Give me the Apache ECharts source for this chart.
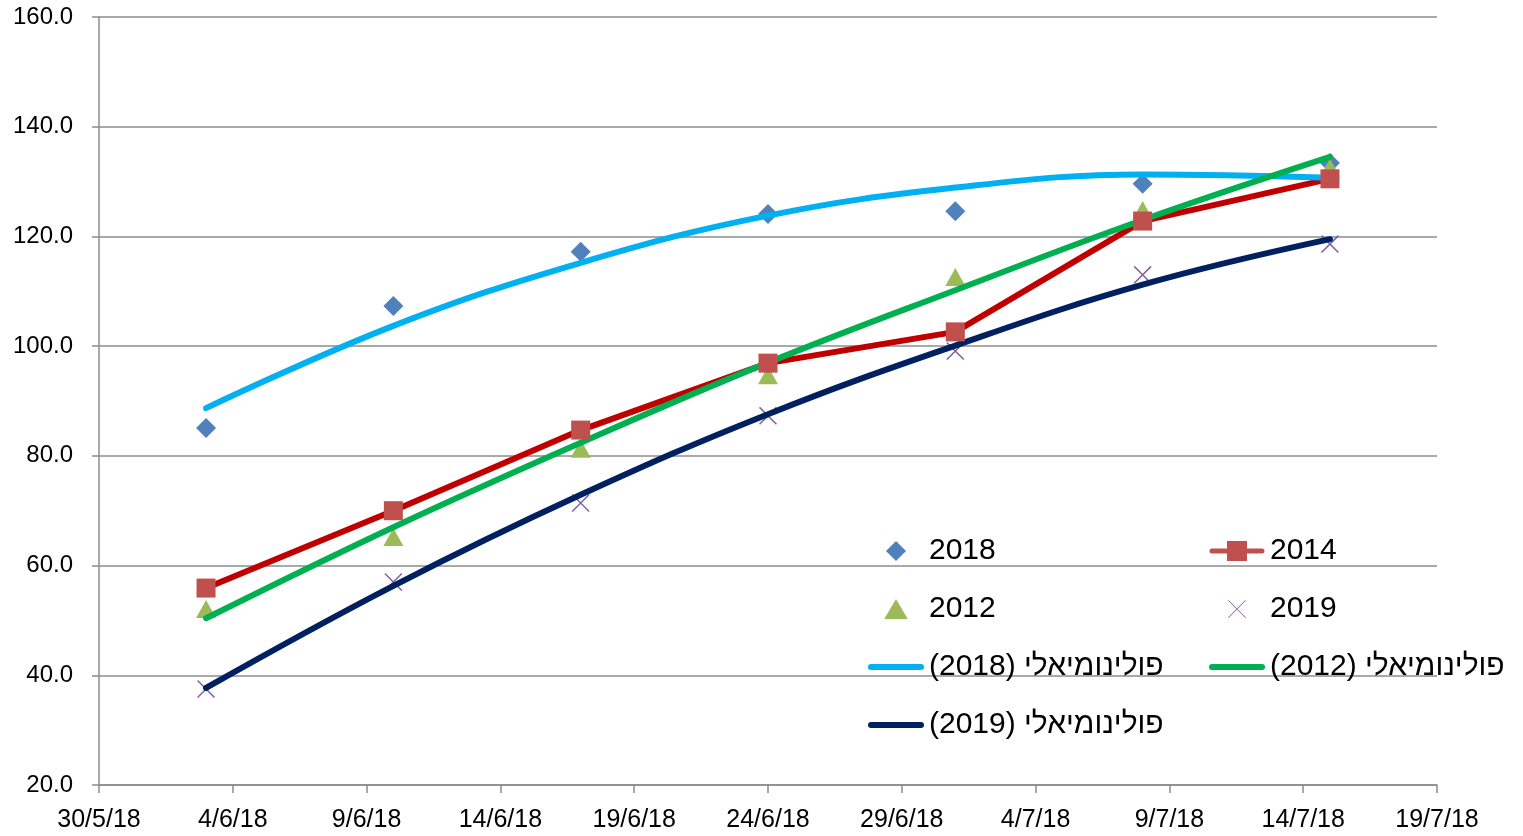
<!DOCTYPE html>
<html>
<head>
<meta charset="utf-8">
<script src="https://cdn.jsdelivr.net/npm/echarts@6/dist/echarts.min.js"></script>
<style>
  html, body { margin: 0; padding: 0; background: #fff; }
  #chart { width: 1523px; height: 836px; }
</style>
</head>
<body>
<div id="chart"></div>
<script>
// measurement dates (weekly)
const dates = ['2018-06-03', '2018-06-10', '2018-06-17', '2018-06-24', '2018-07-01', '2018-07-08', '2018-07-15'];

// observed series
const s2018 = [85.1, 107.3, 117.2, 124.1, 124.6, 129.6, 133.4];
const s2014 = [55.9, 70.0, 84.7, 96.9, 102.6, 122.8, 130.5];
const s2012 = [52.1, 65.2, 81.3, 94.7, 112.6, 124.8, 132.5];
const s2019 = [37.5, 57.0, 71.4, 87.3, 99.1, 113.0, 118.6];

// polynomial trendlines
const t2018 = [88.7, 103.7, 115.2, 123.8, 128.9, 131.3, 130.7];
const t2012 = [50.4, 67.0, 82.4, 97.0, 110.2, 123.0, 134.5];
const t2019 = [37.7, 56.3, 72.9, 87.6, 100.1, 111.2, 119.5];

const yTicks = { min: 20, max: 160, step: 20 };
const xDays = { min: 0, max: 50, step: 5 };   // days from 30/5/18

const DAY = 86400000;
const t0 = Date.UTC(2018, 4, 30);
function dayOffset(s) {
  const p = s.split('-');
  return Math.round((Date.UTC(+p[0], +p[1] - 1, +p[2]) - t0) / DAY);
}
function pairs(vals) {
  return dates.map((d, i) => [dayOffset(d), vals[i]]);
}
function dayLabel(v) {
  const d = new Date(t0 + v * DAY);
  return d.getUTCDate() + '/' + (d.getUTCMonth() + 1) + '/18';
}

const crossPath = 'path://M0,0.6L0.6,0L10,9.4L9.4,10Z M9.4,0L10,0.6L0.6,10L0,9.4Z';
// legend icons (aspect kept, so they sit centred in the 56px slot)
const iconDiamond = 'path://M10,0L20,10L10,20L0,10Z';
const iconTriangle = 'path://M10,0L20,17L0,17Z';
const iconCross = 'path://M1,1.6L1.6,1L19,18.4L18.4,19Z M18.4,1L19,1.6L1.6,19L1,18.4Z M0,0L0.01,0L0.01,0.01Z M19.99,19.99L20,19.99L20,20Z';
const iconBar = 'path://M3,0L53,0A3,3,0,0,1,53,6L3,6A3,3,0,0,1,3,0Z';
const icon2014 = 'path://M3,7.5L18,7.5L18,12.5L3,12.5A2.5,2.5,0,0,1,3,7.5Z M38,7.5L53,7.5A2.5,2.5,0,0,1,53,12.5L38,12.5Z M18,0L38,0L38,20L18,20Z';

const legendText = { fontFamily: 'Liberation Sans, Arial, sans-serif', fontSize: 30, color: '#000', lineHeight: 32 };
function legendBox(items, left, top) {
  return {
    data: items, orient: 'vertical', left: left, top: top, padding: 0,
    itemWidth: 56, itemHeight: 20, itemGap: 26,
    selectedMode: false, textStyle: legendText
  };
}

let myChart = echarts.init(document.getElementById('chart'));
let option = {
  animation: false,
  grid: { left: 99, right: 86, top: 17, bottom: 51 },
  legend: [
    legendBox([
      { name: '2018', icon: iconDiamond },
      { name: '2012', icon: iconTriangle },
      { name: '(2018) פולינומיאלי', icon: iconBar },
      { name: '(2019) פולינומיאלי', icon: iconBar }
    ], 868, 535),
    legendBox([
      { name: '2014', icon: icon2014, itemStyle: { color: '#C0504D' } },
      { name: '2019', icon: iconCross },
      { name: '(2012) פולינומיאלי', icon: iconBar }
    ], 1209, 535)
  ],
  xAxis: {
    type: 'value',
    min: xDays.min, max: xDays.max, interval: xDays.step,
    axisLine: { show: true, lineStyle: { color: '#8c8c8c', width: 1.5 } },
    axisTick: { show: true, length: 8, lineStyle: { color: '#8c8c8c', width: 1.5 } },
    splitLine: { show: false },
    axisLabel: {
      formatter: dayLabel, margin: 23, color: '#000',
      fontFamily: 'Liberation Sans, Arial, sans-serif', fontSize: 25
    }
  },
  yAxis: {
    type: 'value',
    min: yTicks.min, max: yTicks.max, interval: yTicks.step,
    axisLine: { show: true, lineStyle: { color: '#8c8c8c', width: 1.5 } },
    axisTick: { show: true, length: 7, lineStyle: { color: '#8c8c8c', width: 1.5 } },
    splitLine: { show: true, lineStyle: { color: '#8c8c8c', width: 1.5 } },
    axisLabel: {
      formatter: v => v.toFixed(1), margin: 26, color: '#000',
      fontFamily: 'Liberation Sans, Arial, sans-serif', fontSize: 24
    }
  },
  series: [
    {
      name: '2018', type: 'scatter', data: pairs(s2018),
      symbol: 'diamond', symbolSize: 20,
      itemStyle: { color: '#4F81BD', opacity: 1 }
    },
    {
      name: '2014', type: 'line', data: pairs(s2014),
      symbol: 'rect', symbolSize: 19, showAllSymbol: true,
      lineStyle: { color: '#C00000', width: 6 },
      itemStyle: { color: '#C0504D', opacity: 1 }
    },
    {
      name: '2012', type: 'scatter', data: pairs(s2012),
      symbol: 'triangle', symbolSize: [20, 18],
      itemStyle: { color: '#9BBB59', opacity: 1 }
    },
    {
      name: '2019', type: 'scatter', data: pairs(s2019),
      symbol: crossPath, symbolSize: 18,
      itemStyle: { color: '#8064A2', opacity: 1 }
    },
    {
      name: '(2018) פולינומיאלי', type: 'line', data: pairs(t2018),
      smooth: 0.4, symbol: 'none', z: 3,
      lineStyle: { color: '#00B0F0', width: 6, cap: 'round' },
      itemStyle: { color: '#00B0F0' }
    },
    {
      name: '(2012) פולינומיאלי', type: 'line', data: pairs(t2012),
      smooth: 0.4, symbol: 'none', z: 3,
      lineStyle: { color: '#00B050', width: 6, cap: 'round' },
      itemStyle: { color: '#00B050' }
    },
    {
      name: '(2019) פולינומיאלי', type: 'line', data: pairs(t2019),
      smooth: 0.4, symbol: 'none', z: 3,
      lineStyle: { color: '#002060', width: 6, cap: 'round' },
      itemStyle: { color: '#002060' }
    }
  ]
};
myChart.setOption(option, true);
</script>
</body>
</html>
